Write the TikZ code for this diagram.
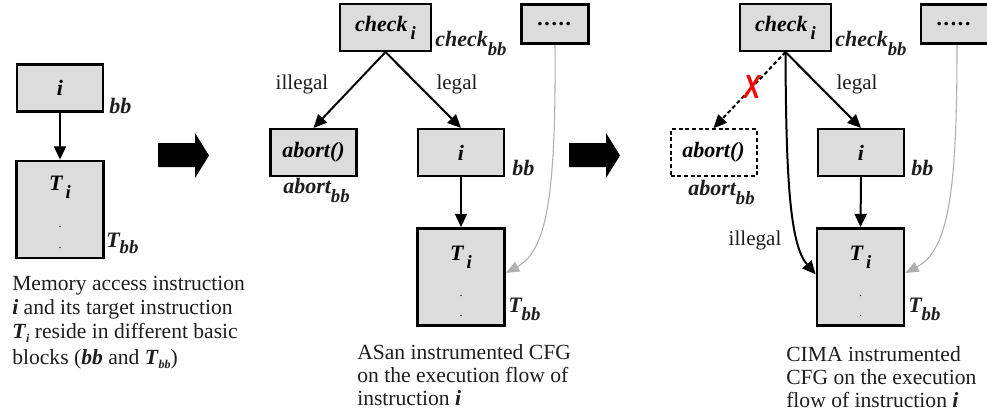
\documentclass[tikz,border=0pt]{standalone}
\usepackage{fontspec}
\setmainfont{Liberation Serif}
\newfontfamily\sansx{Liberation Sans}
\usetikzlibrary{arrows.meta}
\definecolor{boxfill}{RGB}{220,220,220}
\definecolor{txt}{RGB}{30,30,30}
\definecolor{thin}{RGB}{175,175,175}
\newcommand{\bix}[1]{\textbf{\textit{#1}}}
\newcommand{\subx}[3]{\raisebox{#1}{\fontsize{#2}{#2}\selectfont\bix{#3}}}
\newcommand{\fivedots}{.\kern1.2pt.\kern1.2pt.\kern1.2pt.\kern1.2pt.}
\begin{document}
\begin{tikzpicture}[x=0.75pt,y=-0.75pt,
  blk/.style={draw=black, line width=1.8pt, fill=boxfill, inner sep=0pt,
    font=\fontsize{16.5}{18}\selectfont\bfseries\itshape},
  smallbox/.style={blk, minimum width=64.5pt, minimum height=35pt},
  tallbox/.style={blk, minimum width=65.5pt, minimum height=73pt},
  checkbox/.style={blk, minimum width=68pt, minimum height=35pt},
  dotbox/.style={blk, minimum width=50pt, minimum height=29.5pt},
  dashbox/.style={smallbox, fill=none, dashed, line width=1.5pt, dash pattern=on 3pt off 2pt},
  lbl/.style={inner sep=0pt, anchor=base west, text=txt,
    font=\fontsize{16.5}{18}\selectfont\bfseries\itshape},
  edgelbl/.style={inner sep=0pt, text=txt, font=\fontsize{15.8}{18}\selectfont},
  captext/.style={inner sep=0pt, anchor=base west, text=txt, font=\fontsize{16.2}{18}\selectfont},
  intext/.style={inner sep=0pt, anchor=base, font=\fontsize{16.5}{18}\selectfont\bfseries\itshape},
  tinydot/.style={inner sep=0pt, anchor=base, font=\fontsize{9}{9}\selectfont},
  arr/.style={line width=1.5pt, -{Triangle[length=10pt,width=9pt]}},
  grayarr/.style={draw=thin, line width=0.8pt, -{Triangle[length=10pt,width=8pt,fill=thin]}},
  bigarrow/.style={fill=black}
]
\useasboundingbox (0,0) rectangle (987,414);
\fill[white] (0,0) rectangle (987,414);

% ---------------- left panel ----------------
\node[smallbox] (iA) at (60,88) {i};
\node[tallbox] (TA) at (60,209.5) {};
\node[intext] (TiA) at ([yshift=-23pt]TA.north) {T\subx{-6pt}{14}{\,i}};
\node[tinydot] (dA1) at ([yshift=-51pt]TA.north) {.};
\node[tinydot] (dA2) at ([yshift=-67pt]TA.north) {.};
\draw[arr] (iA.south) -- (TA.north);
\node[lbl] (bbA) at (109,113) {bb};
\node[lbl] (TbbA) at (106,247) {T\subx{-5pt}{14}{bb}};

\node[captext] (capA1) at (12,290) {Memory access instruction};
\node[captext] (capA2) at (12,314) {\bix{i} and its target instruction};
\node[captext] (capA3) at (12,338) {\bix{T}\subx{-3pt}{9}{i} reside in different basic};
\node[captext] (capA4) at (12,364) {blocks (\bix{bb} and \bix{T}\subx{-3pt}{9}{bb})};

% big arrow 1
\fill[bigarrow] (158,143) -- (195,143) -- (195,133) -- (209,155.5) -- (195,178) -- (195,167) -- (158,167) -- cycle;

% ---------------- middle panel ----------------
\node[checkbox] (chkB) at (385.5,27.5) {check\subx{-6pt}{14}{\,i}};
\node[dotbox] (dotsB) at (555,24) {\fivedots};
\node[smallbox] (abB) at (313.5,152.5) {abort()};
\node[smallbox] (iB) at (461,152.5) {i};
\node[tallbox] (TB) at (461,277) {};
\node[intext] (TiB) at ([yshift=-25pt]TB.north) {T\subx{-6pt}{14}{\,i}};
\node[tinydot] (dB1) at ([yshift=-52pt]TB.north) {.};
\node[tinydot] (dB2) at ([yshift=-67pt]TB.north) {.};

\draw[arr] (chkB.south) -- (abB.north);
\draw[arr] (chkB.south) -- (iB.north);
\draw[arr] (iB.south) -- (TB.north);
\draw[grayarr] (dotsB.south) .. controls (556,190) and (548,250) .. ([yshift=3pt]TB.east);

\node[edgelbl] (illB) at (302,84) {illegal};
\node[edgelbl] (legB) at (457,84) {legal};
\node[lbl] (chkbbB) at (435,46) {check\subx{-7pt}{14}{bb}};
\node[lbl] (abbbB) at (283,193) {abort\subx{-7pt}{14}{bb}};
\node[lbl] (bbB) at (512,175) {bb};
\node[lbl] (TbbB) at (508,312) {T\subx{-6pt}{14}{bb}};

\node[captext] (capB1) at (357,359) {ASan instrumented CFG};
\node[captext] (capB2) at (357,382) {on the execution flow of};
\node[captext] (capB3) at (357,405) {instruction \bix{i}};

% big arrow 2
\fill[bigarrow] (569,143) -- (606,143) -- (606,133) -- (620,155.5) -- (606,178) -- (606,167) -- (569,167) -- cycle;

% ---------------- right panel ----------------
\node[checkbox] (chkC) at (785.5,27.5) {check\subx{-6pt}{14}{\,i}};
\node[dotbox, minimum width=54pt] (dotsC) at (957,24) {\hspace*{-4pt}\fivedots};
\node[dashbox] (abC) at (713.5,152.5) {abort()};
\node[smallbox] (iC) at (861,152.5) {i};
\node[tallbox] (TC) at (860.5,277) {};
\node[intext] (TiC) at ([yshift=-25pt]TC.north) {T\subx{-6pt}{14}{\,i}};
\node[tinydot] (dC1) at ([yshift=-52pt]TC.north) {.};
\node[tinydot] (dC2) at ([yshift=-67pt]TC.north) {.};

\draw[arr, dashed, dash pattern=on 3pt off 2pt] (chkC.south) -- (abC.north);
\draw[arr] (chkC.south) -- (iC.north);
\draw[arr] (iC.south) -- (TC.north);
\draw[arr] (chkC.south) .. controls (786,180) and (790,245) .. ([yshift=2pt]TC.west);
\draw[grayarr] (dotsC.south) .. controls (957,190) and (949,250) .. ([yshift=3pt]TC.east);

\node[inner sep=0pt, text=red] (xC) at (752,87) {\scalebox{0.75}[1]{\sansx\fontsize{25}{25}\selectfont\bfseries\itshape X}};
\node[edgelbl] (legC) at (857,84) {legal};
\node[edgelbl] (illC) at (755,240) {illegal};
\node[lbl] (chkbbC) at (835,46) {check\subx{-7pt}{14}{bb}};
\node[lbl] (abbbC) at (688,195) {abort\subx{-7pt}{14}{bb}};
\node[lbl] (bbC) at (911,175) {bb};
\node[lbl] (TbbC) at (908,312) {T\subx{-6pt}{14}{bb}};

\node[captext] (capC1) at (786,361) {CIMA instrumented};
\node[captext] (capC2) at (786,384) {CFG on the execution};
\node[captext] (capC3) at (786,407) {flow of instruction \bix{i}};
\end{tikzpicture}
\end{document}
